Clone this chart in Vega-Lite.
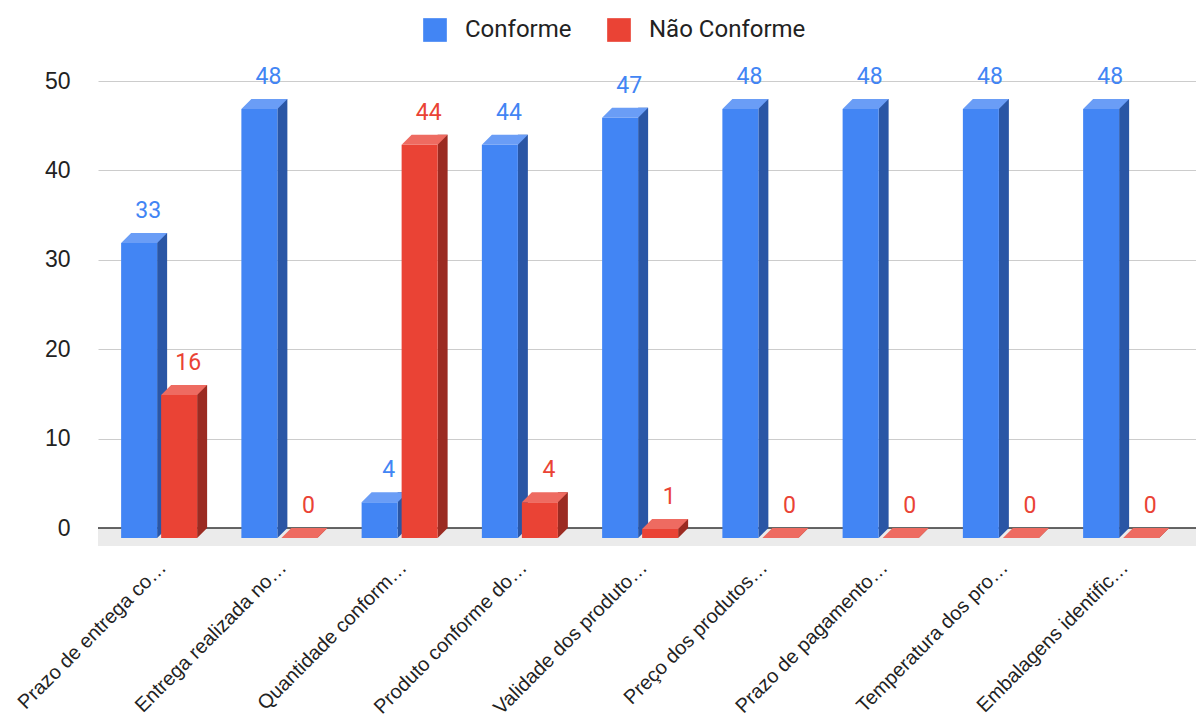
{
  "$schema": "https://vega.github.io/schema/vega-lite/v6.json",
  "autosize": "none",
  "width": 1098,
  "height": 447,
  "padding": {"left": 98, "top": 81, "right": 0, "bottom": 190},
  "background": "white",
  "config": {
    "view": {"stroke": null},
    "font": "Roboto",
    "axisY": {"domain": false, "ticks": false, "grid": true, "gridColor": "#cccccc", "gridWidth": 1, "labelFont": "Liberation Sans", "labelFontSize": 23, "labelColor": "#222222", "labelPadding": 28, "title": null},
    "axisX": {"domain": false, "ticks": false, "grid": false, "labelFont": "Liberation Sans", "labelFontSize": 20, "labelColor": "#222222", "labelAngle": -45, "labelAlign": "right", "labelBaseline": "middle", "labelPadding": 36, "labelOffset": 5, "labelLimit": 400, "title": null},
    "legend": {"orient": "none", "legendX": 325, "legendY": -63, "direction": "horizontal", "symbolType": "square", "symbolSize": 560, "symbolStrokeWidth": 0, "labelFontSize": 24, "labelColor": "#222222", "labelOffset": 18, "columnPadding": 35, "title": null}
  },
  "data": {
    "values": [
      {"category": "Prazo de entrega co…", "series": "Conforme", "value": 33},
      {"category": "Prazo de entrega co…", "series": "Não Conforme", "value": 16},
      {"category": "Entrega realizada no…", "series": "Conforme", "value": 48},
      {"category": "Entrega realizada no…", "series": "Não Conforme", "value": 0},
      {"category": "Quantidade conform…", "series": "Conforme", "value": 4},
      {"category": "Quantidade conform…", "series": "Não Conforme", "value": 44},
      {"category": "Produto conforme do…", "series": "Conforme", "value": 44},
      {"category": "Produto conforme do…", "series": "Não Conforme", "value": 4},
      {"category": "Validade dos produto…", "series": "Conforme", "value": 47},
      {"category": "Validade dos produto…", "series": "Não Conforme", "value": 1},
      {"category": "Preço dos produtos…", "series": "Conforme", "value": 48},
      {"category": "Preço dos produtos…", "series": "Não Conforme", "value": 0},
      {"category": "Prazo de pagamento…", "series": "Conforme", "value": 48},
      {"category": "Prazo de pagamento…", "series": "Não Conforme", "value": 0},
      {"category": "Temperatura dos pro…", "series": "Conforme", "value": 48},
      {"category": "Temperatura dos pro…", "series": "Não Conforme", "value": 0},
      {"category": "Embalagens identific…", "series": "Conforme", "value": 48},
      {"category": "Embalagens identific…", "series": "Não Conforme", "value": 0}
    ]
  },
  "layer": [
    {
      "data": {"values": [{"part": "floor"}]},
      "mark": {"type": "rect", "color": "#ebebeb"},
      "encoding": {
        "y": {"datum": 0, "type": "quantitative", "scale": {"domain": [0, 50], "nice": false}, "axis": {"values": [0, 10, 20, 30, 40, 50]}},
        "y2": {"datum": -2}
      }
    },
    {
      "data": {"values": [{"part": "baseline"}]},
      "mark": {"type": "rule", "color": "#333333", "strokeWidth": 1.5},
      "encoding": {"y": {"datum": 0, "type": "quantitative"}}
    },
    {
      "transform": [{"filter": "datum.series === 'Conforme'"}],
      "mark": {"type": "bar", "width": 10, "xOffset": 4, "color": "#2a56a5", "strokeWidth": 0},
      "encoding": {
        "x": {"field": "category", "type": "nominal", "sort": null, "scale": {"paddingInner": 0, "paddingOuter": 0.0655, "align": 0}},
        "y": {"field": "value", "type": "quantitative"},
        "y2": {"datum": 0}
      }
    },
    {
      "transform": [{"filter": "datum.series === 'Conforme'"}],
      "mark": {"type": "point", "shape": "M0,0L10,0L0,10Z", "size": 4, "filled": true, "opacity": 1, "strokeWidth": 0, "xOffset": -1, "color": "#2a56a5"},
      "encoding": {
        "x": {"field": "category", "type": "nominal", "sort": null},
        "y": {"datum": 0, "type": "quantitative"}
      }
    },
    {
      "transform": [{"filter": "datum.series === 'Conforme'"}],
      "mark": {"type": "bar", "width": 36, "xOffset": -19, "yOffset": 10, "y2Offset": 10, "strokeWidth": 0},
      "encoding": {
        "x": {"field": "category", "type": "nominal", "sort": null},
        "y": {"field": "value", "type": "quantitative"},
        "y2": {"datum": 0},
        "color": {"field": "series", "type": "nominal", "scale": {"domain": ["Conforme", "Não Conforme"], "range": ["#4285f4", "#ea4335"]}}
      }
    },
    {
      "transform": [{"filter": "datum.series === 'Conforme'"}],
      "mark": {"type": "point", "shape": "M-23,5L13,5L23,-5L-13,-5Z", "size": 4, "filled": true, "opacity": 1, "strokeWidth": 0, "xOffset": -14, "yOffset": 5, "color": "#6a9df6"},
      "encoding": {
        "x": {"field": "category", "type": "nominal", "sort": null},
        "y": {"field": "value", "type": "quantitative"}
      }
    },
    {
      "transform": [{"filter": "datum.series === 'Não Conforme'"}],
      "mark": {"type": "bar", "width": 10, "xOffset": 44, "color": "#9b2b22", "strokeWidth": 0},
      "encoding": {
        "x": {"field": "category", "type": "nominal", "sort": null},
        "y": {"field": "value", "type": "quantitative"},
        "y2": {"datum": 0}
      }
    },
    {
      "transform": [{"filter": "datum.series === 'Não Conforme'"}],
      "mark": {"type": "point", "shape": "M0,0L10,0L0,10Z", "size": 4, "filled": true, "opacity": 1, "strokeWidth": 0, "xOffset": 39, "color": "#9b2b22"},
      "encoding": {
        "x": {"field": "category", "type": "nominal", "sort": null},
        "y": {"datum": 0, "type": "quantitative"}
      }
    },
    {
      "transform": [{"filter": "datum.series === 'Não Conforme'"}],
      "mark": {"type": "bar", "width": 36, "xOffset": 21, "yOffset": 10, "y2Offset": 10, "strokeWidth": 0},
      "encoding": {
        "x": {"field": "category", "type": "nominal", "sort": null},
        "y": {"field": "value", "type": "quantitative"},
        "y2": {"datum": 0},
        "color": {"field": "series", "type": "nominal"}
      }
    },
    {
      "transform": [{"filter": "datum.series === 'Não Conforme'"}],
      "mark": {"type": "point", "shape": "M-23,5L13,5L23,-5L-13,-5Z", "size": 4, "filled": true, "opacity": 1, "strokeWidth": 0, "xOffset": 26, "yOffset": 5, "color": "#ee6b61"},
      "encoding": {
        "x": {"field": "category", "type": "nominal", "sort": null},
        "y": {"field": "value", "type": "quantitative"}
      }
    },
    {
      "transform": [{"filter": "datum.series === 'Conforme'"}],
      "mark": {"type": "text", "xOffset": -10, "yOffset": -15, "baseline": "alphabetic", "align": "center", "fontSize": 23, "color": "#4285f4"},
      "encoding": {
        "x": {"field": "category", "type": "nominal", "sort": null},
        "y": {"field": "value", "type": "quantitative"},
        "text": {"field": "value", "type": "quantitative"}
      }
    },
    {
      "transform": [{"filter": "datum.series === 'Não Conforme'"}],
      "mark": {"type": "text", "xOffset": 30, "yOffset": -15, "baseline": "alphabetic", "align": "center", "fontSize": 23, "color": "#ea4335"},
      "encoding": {
        "x": {"field": "category", "type": "nominal", "sort": null},
        "y": {"field": "value", "type": "quantitative"},
        "text": {"field": "value", "type": "quantitative"}
      }
    }
  ]
}
